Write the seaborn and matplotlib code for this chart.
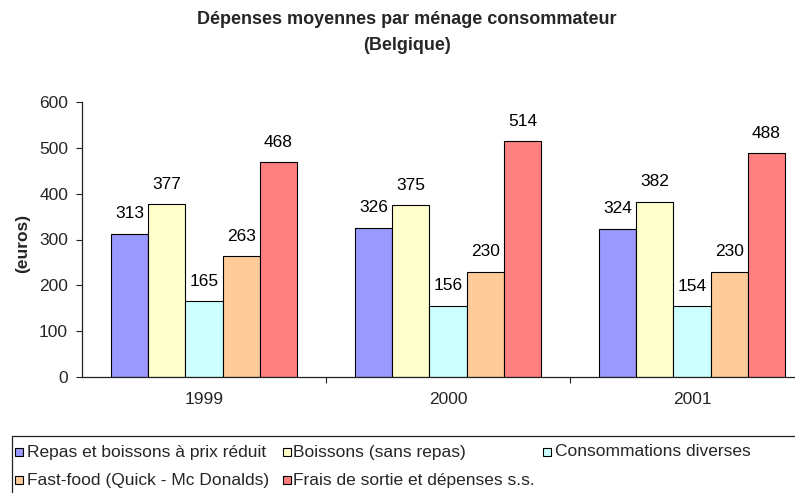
import pandas as pd
import matplotlib.pyplot as plt
import seaborn as sns
from matplotlib.patches import Rectangle

# Données
annees = ['1999', '2000', '2001']
postes = ['Repas et boissons à prix réduit',
          'Boissons (sans repas)',
          'Consommations diverses',
          'Fast-food (Quick - Mc Donalds)',
          'Frais de sortie et dépenses s.s.']
repas = [313, 326, 324]
boissons = [377, 375, 382]
conso = [165, 156, 154]
fastfood = [263, 230, 230]
frais = [468, 514, 488]
couleurs = ['#9999FF', '#FFFFCC', '#CCFFFF', '#FFCC99', '#FF8080']

series = [repas, boissons, conso, fastfood, frais]
rows = []
for poste, vals in zip(postes, series):
    for an, v in zip(annees, vals):
        rows.append({'annee': an, 'poste': poste, 'valeur': v})
df = pd.DataFrame(rows)

sns.set_theme(style="white")
plt.rcParams['font.family'] = ['Liberation Sans', 'DejaVu Sans']

W, H = 795, 493
FS = 12.5
fig = plt.figure(figsize=(W / 100, H / 100), dpi=100)
ax = fig.add_axes([82 / W, 1 - 377 / H, (W - 82) / W, 275 / H])

sns.barplot(data=df, x='annee', y='valeur', hue='poste', hue_order=postes,
            order=annees, palette=couleurs, width=0.762, gap=0,
            edgecolor='black', linewidth=0.8, saturation=1, legend=False, ax=ax)

for cont in ax.containers:
    ax.bar_label(cont, fmt='%d', padding=9, fontsize=FS, color='black')

ax.set_ylim(0, 600)
ax.set_yticks(range(0, 601, 100))
ax.set_xlim(-0.5, (W - 82) / 244 - 0.5)
ax.set_xlabel('')
ax.set_ylabel('')

# graduations entre les groupes
ax.set_xticks([0.5, 1.5], minor=True)
ax.tick_params(axis='x', which='minor', length=4, width=0.8, color='#222222', direction='out', bottom=True)
ax.tick_params(axis='x', which='major', length=0, pad=11, labelsize=FS)
ax.tick_params(axis='y', length=4, width=0.8, color='#222222', direction='out', left=True, pad=6, labelsize=FS)

sns.despine(ax=ax, top=True, right=True)
for s in ['left', 'bottom']:
    ax.spines[s].set_color('#222222')
    ax.spines[s].set_linewidth(0.9)

fig.text(23 / W, 1 - 243 / H, '(euros)', rotation=90, ha='center', va='center',
         fontsize=FS, fontweight='bold')

fig.text(407 / W, 1 - 20 / H, 'Dépenses moyennes par ménage consommateur',
         ha='center', va='center', fontsize=13, fontweight='bold')
fig.text(407 / W, 1 - 46 / H, '(Belgique)', ha='center', va='center',
         fontsize=13, fontweight='bold')

# légende faite à la main (cadre coupé à droite et en bas)
fig.add_artist(Rectangle((12 / W, -0.2), 1.2, 0.2 + (1 - 436 / H), transform=fig.transFigure,
                         fill=False, edgecolor='#222222', linewidth=0.9, clip_on=False))
positions = [(15, 27, 452), (283, 293, 452), (543, 555, 452), (15, 27, 480), (283, 293, 480)]
for (mx, tx, y), poste, c in zip(positions, postes, couleurs):
    fig.add_artist(Rectangle((mx / W, 1 - (y + 4) / H), 8 / W, 8 / H, transform=fig.transFigure,
                             facecolor=c, edgecolor='black', linewidth=0.8))
    fig.text(tx / W, 1 - y / H, poste, ha='left', va='center', fontsize=FS)

fig.savefig('out.png', dpi=100)
